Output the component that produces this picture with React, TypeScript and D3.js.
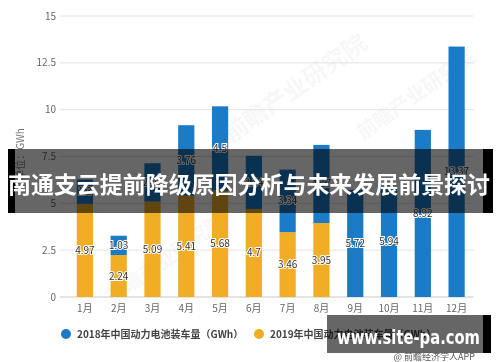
import React, { useEffect, useRef } from 'react';
import * as d3 from 'd3';

// chart data
const months = ['1月', '2月', '3月', '4月', '5月', '6月', '7月', '8月', '9月', '10月', '11月', '12月'];
const values2018 = [1.3, 1.03, 2.05, 3.76, 4.5, 2.84, 3.34, 4.17, 5.72, 5.94, 8.92, 13.37];
const values2019 = [4.97, 2.24, 5.09, 5.41, 5.68, 4.7, 3.46, 3.95, 0, 0, 0, 0];
const yTicks = [0, 2.5, 5, 7.5, 10, 12.5, 15];
const legendLabels = ['2018年中国动力电池装车量（GWh）', '2019年中国动力电池装车量（GWh）'];
const yTitle = '单位：GWh';
const bannerText = '南通支云提前降级原因分析与未来发展前景探讨';
const siteText = 'www.site-pa.com';
const sourceText = '@ 前瞻经济学人APP';
const watermarkText = '前瞻产业研究院';

const W = 500;
const H = 362;
const FONT = '"Noto Sans CJK SC", "Noto Sans", sans-serif';
const BLUE = '#1c7bc7';
const ORANGE = '#f1ae25';

type Row = { month: string; y2019: number; y2018: number };

const App: React.FC = () => {
  const node = useRef<SVGSVGElement | null>(null);

  useEffect(() => {
    const svg = d3.select(node.current);
    svg.selectAll('*').remove();

    const rows: Row[] = months.map((m, i) => ({ month: m, y2019: values2019[i], y2018: values2018[i] }));

    const x = d3.scaleBand<string>().domain(months).range([68, 473.5]).paddingInner(0.52).paddingOuter(0.26);
    const y = d3.scaleLinear().domain([0, 15]).range([297, 16]);

    // faint watermarks
    const wm = svg.append('g').attr('fill', '#000').attr('opacity', 0.035).attr('font-family', FONT).attr('font-weight', 700);
    [[300, 95, 24], [420, 100, 20], [170, 265, 20]].forEach(([cx, cy, fs]) => {
      wm.append('text')
        .attr('transform', `translate(${cx},${cy}) rotate(-35)`)
        .attr('text-anchor', 'middle')
        .attr('font-size', fs)
        .text(watermarkText);
    });

    // grid
    svg.append('g')
      .selectAll('line')
      .data(yTicks)
      .join('line')
      .attr('x1', 60)
      .attr('x2', 473.5)
      .attr('y1', d => y(d))
      .attr('y2', d => y(d))
      .attr('stroke', d => (d === 0 ? '#c8c8c8' : '#e4e4e4'))
      .attr('stroke-width', 1);

    svg.append('g')
      .selectAll('text')
      .data(yTicks)
      .join('text')
      .attr('x', 56)
      .attr('y', d => y(d))
      .attr('dy', '0.35em')
      .attr('text-anchor', 'end')
      .attr('font-family', FONT)
      .attr('font-size', 10)
      .attr('fill', '#666')
      .text(d => String(d));

    svg.append('text')
      .attr('transform', 'translate(24,154) rotate(-90)')
      .attr('text-anchor', 'middle')
      .attr('font-family', FONT)
      .attr('font-size', 10)
      .attr('fill', '#777')
      .text(yTitle);

    // stacked bars
    const stack = d3.stack<Row>().keys(['y2019', 'y2018'])(rows);
    const colors = [ORANGE, BLUE];

    stack.forEach((layer, li) => {
      svg.append('g')
        .attr('fill', colors[li])
        .selectAll('rect')
        .data(layer.filter(d => d[1] - d[0] > 0))
        .join('rect')
        .attr('x', d => x(d.data.month) as number)
        .attr('width', x.bandwidth())
        .attr('y', d => y(d[1]))
        .attr('height', d => y(d[0]) - y(d[1]));
    });

    stack.forEach(layer => {
      svg.append('g')
        .selectAll('text')
        .data(layer.filter(d => d[1] - d[0] > 0))
        .join('text')
        .attr('x', d => (x(d.data.month) as number) + x.bandwidth() / 2)
        .attr('y', d => (y(d[0]) + y(d[1])) / 2)
        .attr('dy', '0.35em')
        .attr('text-anchor', 'middle')
        .attr('font-family', FONT)
        .attr('font-size', 10)
        .attr('fill', '#333')
        .attr('stroke', '#fff')
        .attr('stroke-width', 2)
        .attr('paint-order', 'stroke')
        .text(d => String(+(d[1] - d[0]).toFixed(2)));
    });

    // month labels
    svg.append('g')
      .selectAll('text')
      .data(months)
      .join('text')
      .attr('x', d => (x(d) as number) + x.bandwidth() / 2)
      .attr('y', 308)
      .attr('dy', '0.35em')
      .attr('text-anchor', 'middle')
      .attr('font-family', FONT)
      .attr('font-size', 10)
      .attr('fill', '#666')
      .text(d => d);

    // legend
    const legendX = [66, 259];
    legendLabels.forEach((label, i) => {
      const g = svg.append('g').attr('transform', `translate(${legendX[i]},334)`);
      g.append('circle').attr('r', 5).attr('fill', colors[1 - i]);
      g.append('text')
        .attr('x', 11)
        .attr('dy', '0.35em')
        .attr('font-family', FONT)
        .attr('font-size', 10)
        .attr('font-weight', 700)
        .attr('fill', '#444')
        .text(label);
    });

    // title banner overlay
    svg.append('rect').attr('x', 8).attr('y', 149).attr('width', 485).attr('height', 64).attr('fill', '#000').attr('opacity', 0.6);
    svg.append('rect').attr('x', 8).attr('y', 149).attr('width', 7).attr('height', 64).attr('fill', '#000');
    svg.append('rect').attr('x', 483).attr('y', 149).attr('width', 10).attr('height', 64).attr('fill', '#000');
    svg.append('text')
      .attr('x', 8)
      .attr('y', 193)
      .attr('textLength', 482)
      .attr('lengthAdjust', 'spacingAndGlyphs')
      .attr('font-family', FONT)
      .attr('font-size', 23)
      .attr('font-weight', 700)
      .attr('fill', '#fff')
      .text(bannerText);

    // site box
    svg.append('rect').attr('x', 327).attr('y', 315).attr('width', 164).attr('height', 38).attr('fill', '#000').attr('opacity', 0.6);
    svg.append('rect').attr('x', 483).attr('y', 315).attr('width', 8).attr('height', 38).attr('fill', '#000');
    svg.append('text')
      .attr('x', 337)
      .attr('y', 344)
      .attr('textLength', 143)
      .attr('lengthAdjust', 'spacingAndGlyphs')
      .attr('font-family', '"DejaVu Sans", sans-serif')
      .attr('font-size', 20)
      .attr('font-weight', 700)
      .attr('fill', '#fff')
      .text(siteText);

    svg.append('text')
      .attr('x', 475)
      .attr('y', 360)
      .attr('text-anchor', 'end')
      .attr('font-family', FONT)
      .attr('font-size', 9)
      .attr('fill', '#555')
      .text(sourceText);
  }, []);

  return (
    <svg
      ref={node}
      width={W}
      height={H}
      style={{ position: 'absolute', left: 0, top: 0, background: '#fff' }}
    />
  );
};

export default App;
